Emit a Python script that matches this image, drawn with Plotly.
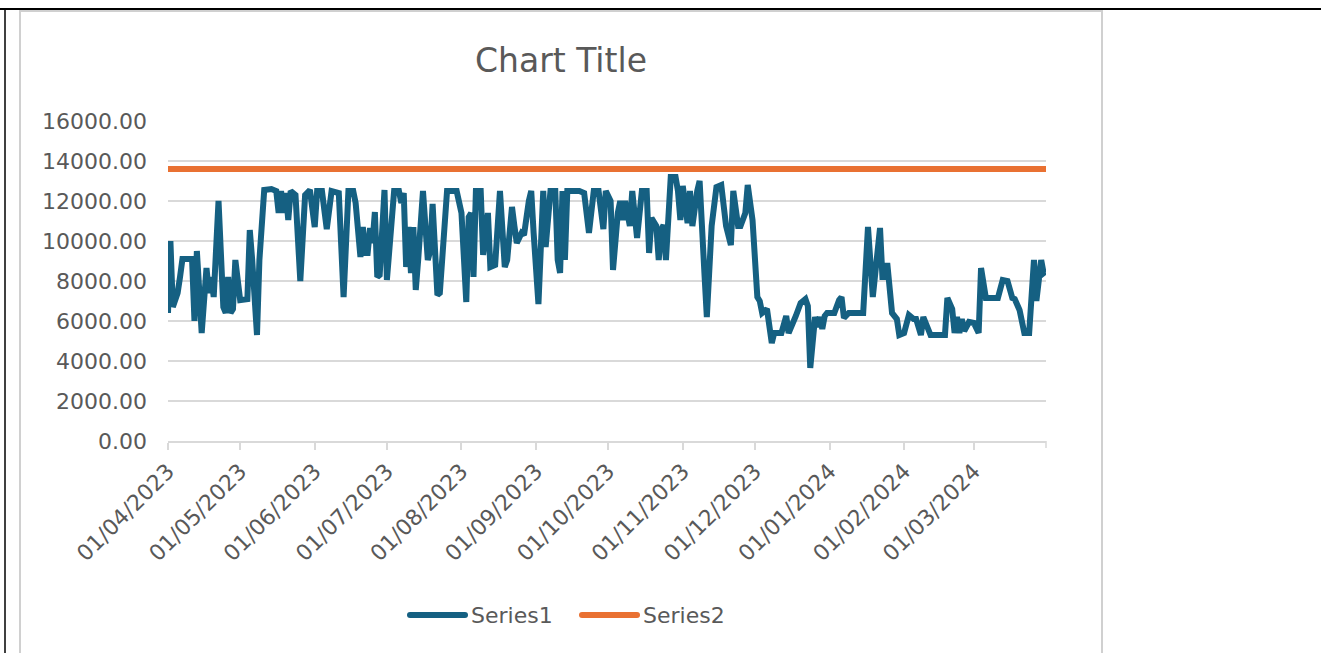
import pandas as pd
import plotly.graph_objects as go

# ---------------- DATA ----------------
start_date = "2023-04-01"
end_date = "2024-03-31"
# day offsets from 1 April 2023 at which the Series1 line changes direction
day_offsets = [
    0, 1, 2, 3, 4, 5, 6, 8, 10, 11, 12, 13, 14, 16, 17, 18, 19, 21, 23, 24,
    25, 26, 27, 28, 29, 30, 33, 34, 35, 37, 38, 40, 43, 45, 46, 47, 48, 49, 50, 51,
    53, 55, 57, 59, 61, 62, 64, 65, 66, 68, 71, 73, 75, 77, 78, 80, 81, 82, 83, 84,
    85, 86, 87, 88, 90, 91, 93, 94, 96, 97, 98, 99, 100, 101, 102, 103, 104, 106, 108, 109,
    110, 112, 113, 114, 116, 120, 122, 124, 125, 126, 127, 128, 130, 131, 133, 134, 136, 138, 140, 141,
    143, 144, 145, 147, 148, 150, 151, 152, 154, 156, 157, 159, 161, 162, 163, 164, 165, 166, 171, 173,
    175, 177, 179, 181, 182, 184, 185, 187, 188, 189, 190, 192, 193, 195, 197, 199, 200, 201, 203, 204,
    205, 206, 207, 209, 211, 212, 213, 214, 216, 217, 218, 220, 221, 223, 224, 226, 228, 230, 232, 234,
    235, 237, 238, 240, 241, 243, 245, 246, 247, 249, 251, 252, 255, 257, 258, 261, 263, 265, 266, 267,
    269, 270, 271, 272, 273, 274, 277, 279, 280, 281, 283, 289, 291, 293, 296, 297, 298, 299, 301, 303,
    304, 306, 308, 310, 311, 313, 314, 315, 317, 323, 324, 326, 327, 328, 329, 330, 331, 333, 335, 337,
    338, 340, 345, 347, 349, 351, 352, 354, 355, 356, 358, 360, 361, 363, 364, 365,
]
series1 = [
    6400, 10000, 6700, 7000, 7400, 8200, 9100, 9100, 9100, 6000, 9500, 7500, 5400, 8650, 7400, 8200, 7200, 12000, 6700, 6400,
    8200, 6400, 6600, 9050, 7600, 7050, 7100, 10550, 9050, 5300, 9050, 12550, 12600, 12500, 11400, 12500, 11400, 12400, 11050, 12500,
    12300, 8000, 12300, 12550, 10700, 12500, 12500, 11200, 10600, 12500, 12400, 7200, 12500, 12500, 11900, 9200, 10700, 9400, 9400, 10650,
    9900, 11450, 8200, 8300, 12550, 8050, 11000, 12500, 12500, 11900, 12400, 8700, 10700, 8400, 10700, 7550, 9050, 12500, 9050, 9500,
    11850, 7300, 7400, 9050, 12500, 12500, 11400, 6950, 11200, 11400, 8200, 12500, 12500, 9300, 11400, 8700, 8800, 12500, 8700, 9050,
    11700, 10750, 9900, 10400, 10300, 12000, 12500, 10400, 6850, 12500, 9700, 12500, 12500, 9050, 8400, 12500, 9050, 12500, 12500, 12400,
    10400, 12500, 12500, 10600, 12500, 12000, 8550, 11400, 12000, 11050, 12000, 10750, 12500, 10150, 12500, 12500, 9400, 11150, 10750, 9050,
    10550, 10800, 9050, 13200, 13200, 12500, 11050, 12750, 10900, 12500, 10750, 12500, 13000, 8400, 6200, 10750, 12700, 12800, 10750, 9800,
    12500, 10750, 10750, 11400, 12800, 11050, 7200, 7000, 6400, 6600, 4900, 5400, 5400, 6250, 5400, 6250, 6900, 7100, 6750, 3650,
    6200, 5700, 6200, 5600, 6250, 6400, 6400, 7050, 7200, 6150, 6400, 6400, 10700, 7200, 10650, 8200, 8200, 8900, 6400, 6100,
    5300, 5400, 6300, 6100, 6100, 5300, 6200, 5900, 5300, 5300, 7150, 6600, 5400, 6200, 5400, 6100, 5500, 5950, 5900, 5400,
    8650, 7150, 7150, 8050, 8000, 7150, 7100, 6550, 5750, 5400, 5400, 9050, 7000, 9050, 8400, 8500,
]
series2_level = 13600
series_names = ["Series1", "Series2"]
month_ticks = pd.date_range("2023-04-01", "2024-03-01", freq="MS")
y_ticks = [0, 2000, 4000, 6000, 8000, 10000, 12000, 14000, 16000]

dates = pd.Timestamp(start_date) + pd.to_timedelta(day_offsets, unit="D")

# ---------------- STYLE ----------------
FONT = "DejaVu Sans"
GREY = "#595959"
GRID = "#d9d9d9"
BLUE = "#156082"
ORANGE = "#E97132"

fig = go.Figure()
fig.add_trace(go.Scatter(
    x=dates, y=series1, mode="lines", name=series_names[0],
    line=dict(color=BLUE, width=6), showlegend=False,
))
fig.add_trace(go.Scatter(
    x=[pd.Timestamp(start_date), pd.Timestamp(end_date)],
    y=[series2_level, series2_level], mode="lines", name=series_names[1],
    line=dict(color=ORANGE, width=6), showlegend=False,
))

# pixel -> paper helpers for the frame and the Excel-style legend
W, H = 1321, 653
L, R, T, B = 168, 1046, 121, 441
px = lambda v: (v - L) / (R - L)
py = lambda v: (B - v) / (B - T)

shapes = [
    # chart area border
    dict(type="rect", xref="paper", yref="paper", x0=px(20), x1=px(1102), y0=py(11), y1=py(700),
         line=dict(color="#d0d0d0", width=2), fillcolor="rgba(0,0,0,0)", layer="below"),
    # outer black frame
    dict(type="line", xref="paper", yref="paper", x0=px(0), x1=px(W), y0=py(9), y1=py(9),
         line=dict(color="black", width=2)),
    dict(type="line", xref="paper", yref="paper", x0=px(5), x1=px(5), y0=py(9), y1=py(700),
         line=dict(color="black", width=1.5)),
    # end tick on the date axis
    dict(type="line", xref="paper", yref="paper", x0=1, x1=1, y0=0, y1=-7 / (B - T),
         line=dict(color=GRID, width=1.5)),
]

# legend: long line keys like Excel
annotations = []
for name, color, x_line in zip(series_names, [BLUE, ORANGE], [407, 579]):
    shapes.append(dict(type="line", xref="paper", yref="paper",
                       x0=px(x_line + 3), x1=px(x_line + 58), y0=py(615), y1=py(615),
                       line=dict(color=color, width=6)))
    shapes.append(dict(type="circle", xref="paper", yref="paper",
                       x0=px(x_line), x1=px(x_line + 6), y0=py(612), y1=py(618),
                       fillcolor=color, line=dict(width=0)))
    shapes.append(dict(type="circle", xref="paper", yref="paper",
                       x0=px(x_line + 55), x1=px(x_line + 61), y0=py(612), y1=py(618),
                       fillcolor=color, line=dict(width=0)))
    annotations.append(dict(text=name, xref="paper", yref="paper", x=px(x_line + 62), y=py(615),
                            xanchor="left", yanchor="middle", showarrow=False,
                            font=dict(size=22, color=GREY, family=FONT)))

fig.update_layout(
    width=W, height=H,
    margin=dict(l=L, r=W - R, t=T, b=H - B),
    paper_bgcolor="white", plot_bgcolor="white",
    font=dict(family=FONT, color=GREY),
    title=dict(text="Chart Title", x=561 / W, xref="container", xanchor="center",
               y=1 - 60 / H, yref="container", yanchor="middle",
               font=dict(size=33, color=GREY, family=FONT)),
    showlegend=False,
    shapes=shapes,
    annotations=annotations,
)
fig.update_xaxes(
    type="date", range=[start_date, end_date],
    tickvals=month_ticks, tickformat="%d/%m/%Y", tickangle=-45,
    tickfont=dict(size=22, color=GREY),
    showgrid=False, showline=True, linecolor=GRID, linewidth=1.5,
    ticks="outside", ticklen=7, tickcolor=GRID, tickwidth=1.5,
    zeroline=False,
)
fig.update_yaxes(
    range=[0, 16000], tickvals=y_ticks, tickformat=".2f",
    tickfont=dict(size=22, color=GREY),
    showgrid=True, gridcolor=GRID, gridwidth=1.5,
    showline=False, zeroline=False, ticks="", ticklabelstandoff=20,
)

# page body margin would shift the chart by 8px, so drop it
fig.write_html("out.html", config={"displayModeBar": False},
               post_script="document.body.style.margin='0';")
